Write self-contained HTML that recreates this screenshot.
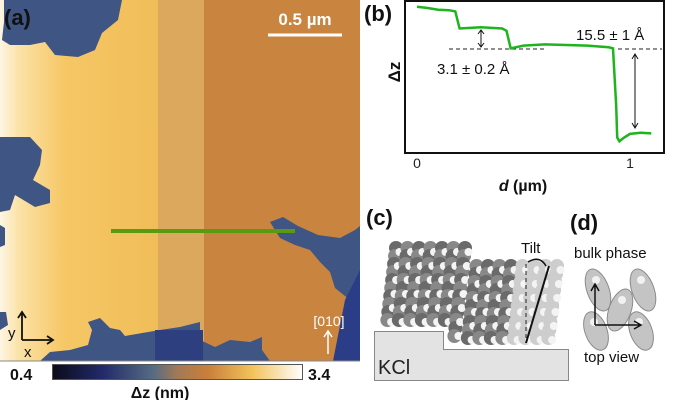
<!DOCTYPE html>
<html><head><meta charset="utf-8">
<style>
html,body{margin:0;padding:0;background:#fff;}
svg{display:block;font-family:"Liberation Sans",sans-serif;}
</style></head>
<body>
<svg id="fig" width="682" height="400" viewBox="0 0 682 400" xmlns="http://www.w3.org/2000/svg">
<defs>
<linearGradient id="yel" x1="0" x2="1" y1="0" y2="0">
<stop offset="0" stop-color="#fdf6e4"/><stop offset="0.12" stop-color="#fbe2a6"/><stop offset="0.4" stop-color="#f6c766"/><stop offset="1" stop-color="#f0bd58"/>
</linearGradient>
<linearGradient id="cbar" x1="0" x2="1" y1="0" y2="0">
<stop offset="0" stop-color="#0b0b18"/><stop offset="0.2" stop-color="#222a6a"/><stop offset="0.4" stop-color="#556b84"/><stop offset="0.5" stop-color="#a27a55"/><stop offset="0.62" stop-color="#c97f3a"/><stop offset="0.8" stop-color="#f2c35c"/><stop offset="1" stop-color="#ffffff"/>
</linearGradient>
</defs>

<!-- Panel a -->
<g>
<rect x="0" y="0" width="160" height="361" fill="url(#yel)"/>
<rect x="158" y="0" width="47" height="361" fill="#dca85e"/>
<rect x="204" y="0" width="156" height="361" fill="#c9843f"/>
<g fill="#3f5583">
<path d="M4,0 L122,0 L118,20 L102,33 L95,50 L78,57 L55,55 L45,42 L30,45 L10,45 L2,40 L4,22 Z"/>
<path d="M0,137 L30,137 L42,150 L40,165 L33,180 L50,190 L50,203 L35,207 L15,195 L10,210 L0,212 Z"/>
<path d="M0,225 L5,228 L5,245 L0,247 Z"/>
<path d="M0,312 L6,312 L8,325 L0,330 Z"/>
<path d="M40,361 L50,352 L70,350 L88,345 L92,330 L88,322 L100,318 L110,328 L120,330 L125,336 L160,330 L180,327 L200,322 L200,340 L215,347 L230,340 L250,342 L262,337 L262,350 L270,361 Z"/>
<path d="M270,222 L283,217 L298,226 L318,235 L340,238 L355,230 L360,226 L360,361 L335,361 L342,330 L350,300 L335,288 L330,272 L320,262 L310,250 L295,245 L280,238 Z"/>
</g>
<rect x="155" y="330" width="48" height="31" fill="#2e3f80"/>
<path d="M345,300 L360,270 L360,361 L333,361 Z" fill="#2a3d86"/>
<line x1="111" y1="231" x2="295" y2="231" stroke="#5a9a10" stroke-width="4"/>
<text x="4" y="25" font-size="22" font-weight="bold" fill="#111">(a)</text>
<text x="305" y="25" font-size="17" font-weight="bold" fill="#fff" text-anchor="middle">0.5 µm</text>
<line x1="268" y1="35" x2="342" y2="35" stroke="#fff" stroke-width="3"/>
<g stroke="#111" stroke-width="1.8" fill="none">
<path d="M22,340 L22,313 M18,318 L22,312 L26,318"/>
<path d="M22,340 L53,340 M47,336 L53,340 L47,344"/>
</g>
<text x="8" y="338" font-size="15" fill="#111">y</text>
<text x="24" y="357" font-size="15" fill="#111">x</text>
<text x="329" y="326" font-size="14" fill="#fff" text-anchor="middle">[010]</text>
<path d="M328,354 L328,332 M324,337 L328,331 L332,337" stroke="#fff" stroke-width="1.5" fill="none"/>
</g>
<line x1="0" y1="361" x2="360" y2="361" stroke="#888" stroke-width="1"/>
<g>
<rect x="52.5" y="364.5" width="250" height="15" fill="url(#cbar)" stroke="#555" stroke-width="1"/>
<text x="10" y="380" font-size="16" font-weight="bold" fill="#111">0.4</text>
<text x="308" y="380" font-size="16" font-weight="bold" fill="#111">3.4</text>
<text x="160" y="398" font-size="16" font-weight="bold" fill="#111" text-anchor="middle">Δz (nm)</text>
</g>

<!-- Panel b -->
<g id="panelb">
<rect x="405" y="1" width="259" height="152" fill="none" stroke="#111" stroke-width="2"/>
<text x="364" y="21" font-size="22" font-weight="bold" fill="#111">(b)</text>
<text transform="translate(400,72) rotate(-90)" font-size="17" font-weight="bold" fill="#111" text-anchor="middle">Δz</text>
<text x="523" y="191" font-size="16" font-weight="bold" fill="#111" text-anchor="middle"><tspan font-style="italic">d</tspan> (µm)</text>
<line x1="449" y1="49" x2="545" y2="49" stroke="#222" stroke-dasharray="4,3"/>
<line x1="618" y1="49" x2="662" y2="49" stroke="#222" stroke-dasharray="4,3"/>
<path d="M481,30 L481,47 M478,34 L481,30 L484,34 M478,43 L481,47 L484,43" stroke="#111" fill="none"/>
<path d="M635,54 L635,128 M632,59 L635,54 L638,59 M632,123 L635,128 L638,123" stroke="#111" fill="none"/>
<text x="437" y="74" font-size="15" fill="#111">3.1 ± 0.2 Å</text>
<text x="576" y="40" font-size="15" fill="#111">15.5 ± 1 Å</text>
</g>

<!-- Panel c -->
<g id="panelc">
<text x="366" y="225" font-size="22" font-weight="bold" fill="#111">(c)</text>
<path d="M374.5,331.5 L443.5,331.5 L443.5,349.5 L568.5,349.5 L568.5,380.5 L374.5,380.5 Z" fill="#e3e3e3" stroke="#888"/>
<text x="378" y="374" font-size="20" fill="#222">KCl</text>
<g id="mol"></g>
<line x1="526" y1="264" x2="526" y2="343" stroke="#222" stroke-dasharray="4,3"/>
<line x1="526" y1="343" x2="549" y2="266" stroke="#111" stroke-width="2"/>
<path d="M528,262 Q540,255 546,266" stroke="#111" stroke-width="1.5" fill="none"/>
<text x="521" y="253" font-size="15" fill="#111">Tilt</text>
</g>

<!-- Panel d -->
<g>
<text x="570" y="230" font-size="22" font-weight="bold" fill="#111">(d)</text>
<text x="574" y="258" font-size="15" fill="#111">bulk phase</text>
<g fill="#c4c4c4" stroke="#8a8a8a" stroke-width="1">
<ellipse cx="598" cy="290" rx="11" ry="22" transform="rotate(-20 598 290)"/>
<ellipse cx="643" cy="290" rx="11" ry="22" transform="rotate(-20 643 290)"/>
<ellipse cx="620" cy="310" rx="11" ry="22" transform="rotate(20 620 310)"/>
<ellipse cx="596" cy="331" rx="11" ry="20" transform="rotate(-20 596 331)"/>
<ellipse cx="641" cy="331" rx="11" ry="20" transform="rotate(-20 641 331)"/>
</g>
<g fill="#f2f2f2">
<circle cx="596" cy="280" r="4"/><circle cx="641" cy="280" r="4"/><circle cx="622" cy="300" r="4"/><circle cx="594" cy="322" r="4"/><circle cx="639" cy="322" r="4"/>
</g>
<path d="M595,325 L595,285 M591,291 L595,284 L599,291 M595,325 L640,325 M634,321 L641,325 L634,329" stroke="#111" stroke-width="1.5" fill="none"/>
<text x="584" y="362" font-size="15" fill="#111">top view</text>
</g>
</svg>
<script>
// Height profile data (d in µm, z in Å relative to lower organic level)
const profD = [0, 0.05, 0.1, 0.15, 0.18, 0.2, 0.25, 0.3, 0.35, 0.4, 0.42, 0.44, 0.5, 0.6, 0.7, 0.8, 0.9, 0.92, 0.935, 0.94, 0.95, 0.97, 1.0, 1.05, 1.1];
const profZ = [7.4, 7.2, 6.9, 6.8, 6.6, 3.6, 3.7, 3.8, 3.7, 3.6, 3.2, 0.1, 0.6, 0.8, 0.7, 0.6, 0.3, 0.1, -10, -15.5, -16.2, -15.6, -14.9, -14.7, -14.8];
const xTicks = [0, 1];

const NS = "http://www.w3.org/2000/svg";
const pb = document.getElementById("panelb");
function xs(d){ return 417 + d * 213; }
function ys(z){ return 49 - z * 5.7; }
let dstr = "";
for (let i = 0; i < profD.length; i++) dstr += (i ? "L" : "M") + xs(profD[i]).toFixed(1) + "," + ys(profZ[i]).toFixed(1);
const pl = document.createElementNS(NS, "path");
pl.setAttribute("d", dstr);
pl.setAttribute("stroke", "#1eb41e");
pl.setAttribute("stroke-width", "2.5");
pl.setAttribute("fill", "none");


pb.appendChild(pl);
xTicks.forEach(t => {
  const tx = document.createElementNS(NS, "text");
  tx.setAttribute("x", xs(t));
  tx.setAttribute("y", 168);
  tx.setAttribute("font-size", "14");
  tx.setAttribute("fill", "#222");
  tx.setAttribute("text-anchor", "middle");
  tx.textContent = String(t);
  
  
  pb.appendChild(tx);
});

// molecule layer decoration
const mol = document.getElementById("mol");
function addC(cx, cy, r, fill){
  const c = document.createElementNS(NS, "circle");
  c.setAttribute("cx", cx); c.setAttribute("cy", cy); c.setAttribute("r", r);
  c.setAttribute("fill", fill);
  mol.appendChild(c);
}
for (let col = 0; col < 15; col++) {
  const baseX = 392 + col * 11.5;
  const top = col < 7 ? 248 : 266;
  const bot = col < 6 ? 326 : 342;
  const light = col >= 11;
  for (let y = top; y <= bot; y += 8) {
    const sh = (y - top) * -0.12;
    addC(baseX + sh + 4, y, 7, light ? "#cdcdcd" : ((col + Math.round(y/8)) % 2 ? "#6a6a6a" : "#888"));
  }
  for (let y = top + 4; y <= bot; y += 14) {
    const sh = (y - top) * -0.12;
    addC(baseX + sh + 8, y, 4, "#f4f4f4");
  }
}
</script>
</body></html>
